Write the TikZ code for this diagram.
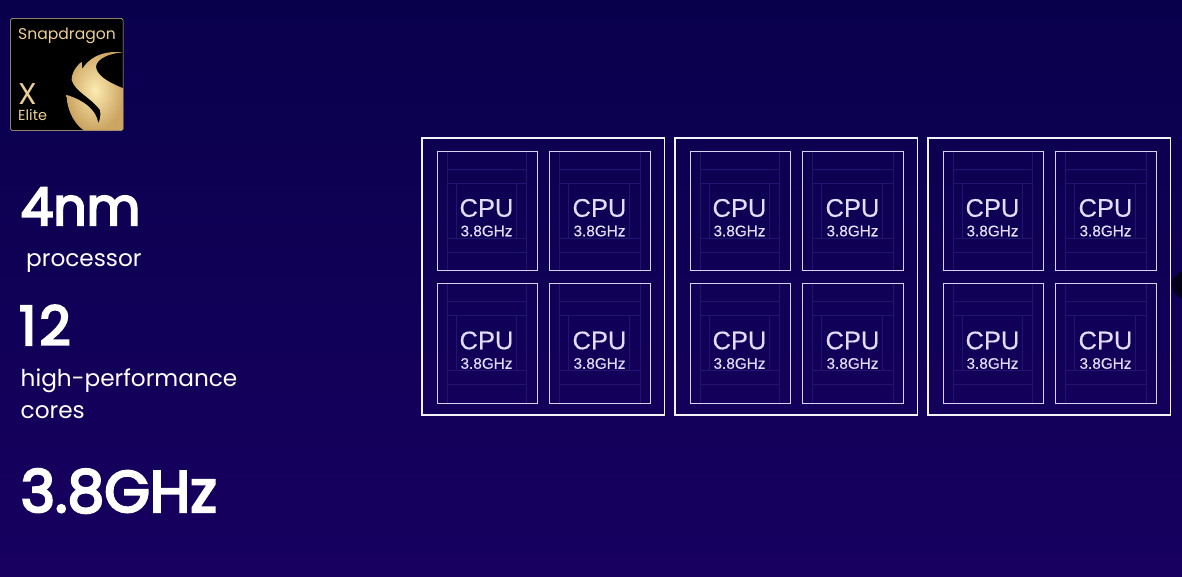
\documentclass[tikz,border=0pt]{standalone}
\usepackage{fontspec}
\setmainfont{Poppins}
\newfontfamily\headfont[FakeBold=4]{Poppins}
\newfontfamily\cpufont[FakeBold=0.25]{Liberation Sans}
\definecolor{bgtop}{HTML}{09004C}
\definecolor{bgbot}{HTML}{170060}
\definecolor{outerline}{HTML}{F4F2FC}
\definecolor{innerline}{HTML}{D6D2F0}
\definecolor{faintline}{HTML}{211570}
\definecolor{cputext}{HTML}{E2DEF8}
\definecolor{goldtext}{HTML}{EBCF96}
\definecolor{goldlight}{HTML}{FCEBB0}
\definecolor{golddark}{HTML}{CCA562}
\tikzset{
  clusterbox/.style={draw=outerline,line width=1.8pt,fill=none},
  corebox/.style={draw=innerline,line width=0.9pt,fill=none},
  faint/.style={draw=faintline,line width=0.5pt},
  cpulabel/.style={text=cputext,font=\cpufont\fontsize{25.5}{25.5}\selectfont,anchor=center,inner sep=0pt},
  ghzlabel/.style={text=cputext,font=\cpufont\fontsize{15.3}{16}\selectfont,anchor=center,inner sep=0pt},
  bigtext/.style={text=white,anchor=base west,inner sep=0pt,font=\headfont\fontsize{#1}{#1}\selectfont},
  smalltext/.style={text=white,anchor=base west,inner sep=0pt,font=\fontsize{#1}{#1}\selectfont},
  goldlabel/.style={text=goldtext,anchor=base west,inner sep=0pt,font=\fontsize{#1}{#1}\selectfont},
}
\begin{document}
\begin{tikzpicture}[x=1pt,y=-1pt]
\useasboundingbox (0,0) rectangle (1182,577);
\shade[top color=bgtop,bottom color=bgbot] (0,0) rectangle (1182,577);
% dark disc at the right edge
\begin{scope}
\clip (0,0) rectangle (1182,577);
\fill[black,opacity=.7] (1186,285) circle (14);
\end{scope}
% logo
\begin{scope}
\fill[black,draw=golddark!70,line width=.5pt,rounded corners=1.5pt] (10.5,18.5) rectangle (123,130.5);
\clip[rounded corners=1.5pt] (10.5,18.5) rectangle (123,130.5);
\begin{scope}[x=0.3333pt,y=-0.3333pt]
\shade[inner color=goldlight,outer color=golddark,shading=radial]
  (368,157) .. controls (300,150) and (262,180) .. (247,207)
  -- (245,185) .. controls (222,205) and (214,225) .. (215,240)
  .. controls (225,275) and (270,290) .. (300,330)
  .. controls (303,345) and (300,360) .. (295,370)
  .. controls (290,330) and (250,300) .. (200,285)
  .. controls (200,340) and (235,385) .. (255,392)
  -- (370,392) -- (370,265)
  .. controls (320,245) and (290,225) .. (288,200)
  .. controls (290,175) and (330,160) .. (368,157) -- cycle;
\end{scope}
\end{scope}
\node[goldlabel=15.6] (brand) at (18,40) {Snapdragon};
\node[goldlabel=30] (modelx) at (18.5,105) {X};
\node[goldlabel=14.5] (elite) at (18,121) {Elite};
% left column
\node[bigtext=52] (nm) at (20.5,225) {4nm};
\node[smalltext=23.2] (proc) at (26,266) {processor};
\node[bigtext=54] (twelve) at (19,345) {1\kern3pt 2};
\node[smalltext=23.2] (hp) at (20.5,386) {high-performance};
\node[smalltext=23.2] (cores) at (20.5,418) {cores};
\node[bigtext=58.5] (ghz) at (20.5,512) {3.8GHz};
% clusters
\foreach \cl/\cx in {1/422,2/675,3/928}{
  \draw[clusterbox] (\cx,138) rectangle ++(242.5,277);
  \foreach \col/\dx/\w in {1/15/100,2/127.5/101}{
    \foreach \row/\y in {1/151,2/283.5}{
      \pgfmathsetmacro{\xa}{\cx+\dx}
      \pgfmathsetmacro{\xb}{\xa+\w}
      \pgfmathsetmacro{\xc}{\xa+\w/2}
      \begin{scope}[shift={(\xa,\y)}]
        \draw[faint] (10,0) -- (10,119) (\w-10.5,0) -- (\w-10.5,119);
        \draw[faint] (10,18) -- (\w-10.5,18) (10,32) -- (\w-10.5,32)
                     (10,87) -- (\w-10.5,87) (10,101) -- (\w-10.5,101);
        \draw[faint] (19,32) rectangle (\w-21,87);
      \end{scope}
      \draw[corebox] (\xa,\y) rectangle (\xb,\y+119.5);
      \node[cpulabel] (cpu\cl\col\row) at (\xc-0.5,\y+57) {CPU};
      \node[ghzlabel] (ghz\cl\col\row) at (\xc-0.5,\y+80) {3.8GHz};
    }
  }
}
\end{tikzpicture}
\end{document}
